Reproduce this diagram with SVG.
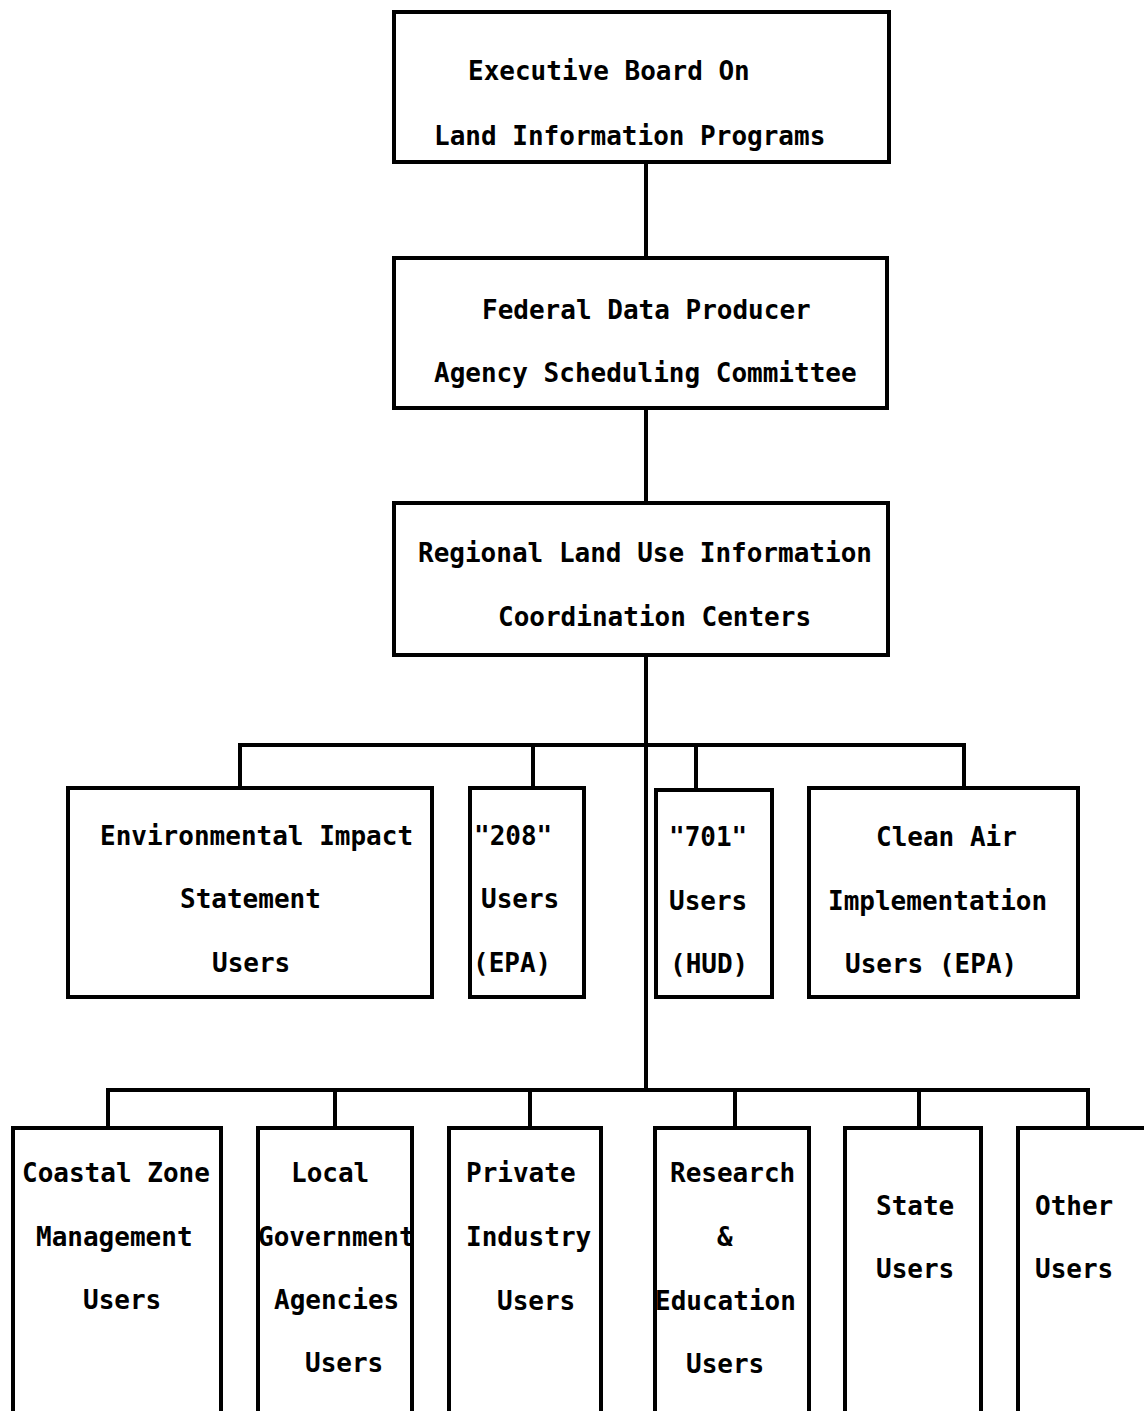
<svg xmlns="http://www.w3.org/2000/svg" width="1144" height="1411" viewBox="0 0 1144 1411">
<style>
rect.box{fill:#fff;stroke:#000;stroke-width:4}
.conn line{stroke:#000;stroke-width:4;stroke-linecap:square}
text{font-family:"DejaVu Sans Mono","Liberation Mono",monospace;font-weight:bold;font-size:26px;fill:#000}
</style>
<rect x="0" y="0" width="1144" height="1411" fill="#fff"/>
<g id="connectors" class="conn">
<line x1="646" y1="162" x2="646" y2="258"/>
<line x1="646" y1="408" x2="646" y2="503"/>
<line x1="646" y1="655" x2="646" y2="1090"/>
<line x1="240" y1="745" x2="964" y2="745"/>
<line x1="240" y1="745" x2="240" y2="788"/>
<line x1="533" y1="745" x2="533" y2="788"/>
<line x1="696" y1="745" x2="696" y2="790"/>
<line x1="964" y1="745" x2="964" y2="788"/>
<line x1="108" y1="1090" x2="1088" y2="1090"/>
<line x1="108" y1="1090" x2="108" y2="1128"/>
<line x1="335" y1="1090" x2="335" y2="1128"/>
<line x1="530" y1="1090" x2="530" y2="1128"/>
<line x1="735" y1="1090" x2="735" y2="1128"/>
<line x1="919" y1="1090" x2="919" y2="1128"/>
<line x1="1088" y1="1090" x2="1088" y2="1128"/>
</g>
<g id="executive-board">
<rect class="box" x="394" y="12" width="495" height="150"/>
<text x="468" y="80">Executive Board On</text>
<text x="434" y="145">Land Information Programs</text>
</g>
<g id="federal-data-producer">
<rect class="box" x="394" y="258" width="493" height="150"/>
<text x="482" y="319">Federal Data Producer</text>
<text x="434" y="382">Agency Scheduling Committee</text>
</g>
<g id="regional-centers">
<rect class="box" x="394" y="503" width="494" height="152"/>
<text x="418" y="562">Regional Land Use Information</text>
<text x="498" y="626">Coordination Centers</text>
</g>
<g id="eis-users">
<rect class="box" x="68" y="788" width="364" height="209"/>
<text x="100" y="845">Environmental Impact</text>
<text x="180" y="908">Statement</text>
<text x="212" y="972">Users</text>
</g>
<g id="users-208">
<rect class="box" x="470" y="788" width="114" height="209"/>
<text x="474" y="845">"208"</text>
<text x="481" y="908">Users</text>
<text x="473" y="972">(EPA)</text>
</g>
<g id="users-701">
<rect class="box" x="656" y="790" width="116" height="207"/>
<text x="669" y="846">"701"</text>
<text x="669" y="910">Users</text>
<text x="670" y="973">(HUD)</text>
</g>
<g id="clean-air">
<rect class="box" x="809" y="788" width="269" height="209"/>
<text x="876" y="846">Clean Air</text>
<text x="828" y="910">Implementation</text>
<text x="845" y="973">Users (EPA)</text>
</g>
<g id="coastal-zone">
<rect class="box" x="13" y="1128" width="208" height="310"/>
<text x="22" y="1182">Coastal Zone</text>
<text x="36" y="1246">Management</text>
<text x="83" y="1309">Users</text>
</g>
<g id="local-government">
<rect class="box" x="258" y="1128" width="154" height="310"/>
<text x="291" y="1182">Local</text>
<text x="258" y="1246">Government</text>
<text x="274" y="1309">Agencies</text>
<text x="305" y="1372">Users</text>
</g>
<g id="private-industry">
<rect class="box" x="449" y="1128" width="152" height="310"/>
<text x="466" y="1182">Private</text>
<text x="466" y="1246">Industry</text>
<text x="497" y="1310">Users</text>
</g>
<g id="research-education">
<rect class="box" x="655" y="1128" width="154" height="310"/>
<text x="670" y="1182">Research</text>
<text x="717" y="1246">&amp;</text>
<text x="655" y="1310">Education</text>
<text x="686" y="1373">Users</text>
</g>
<g id="state-users">
<rect class="box" x="845" y="1128" width="136" height="310"/>
<text x="876" y="1215">State</text>
<text x="876" y="1278">Users</text>
</g>
<g id="other-users">
<rect class="box" x="1018" y="1128" width="160" height="310"/>
<text x="1035" y="1215">Other</text>
<text x="1035" y="1278">Users</text>
</g>
</svg>
